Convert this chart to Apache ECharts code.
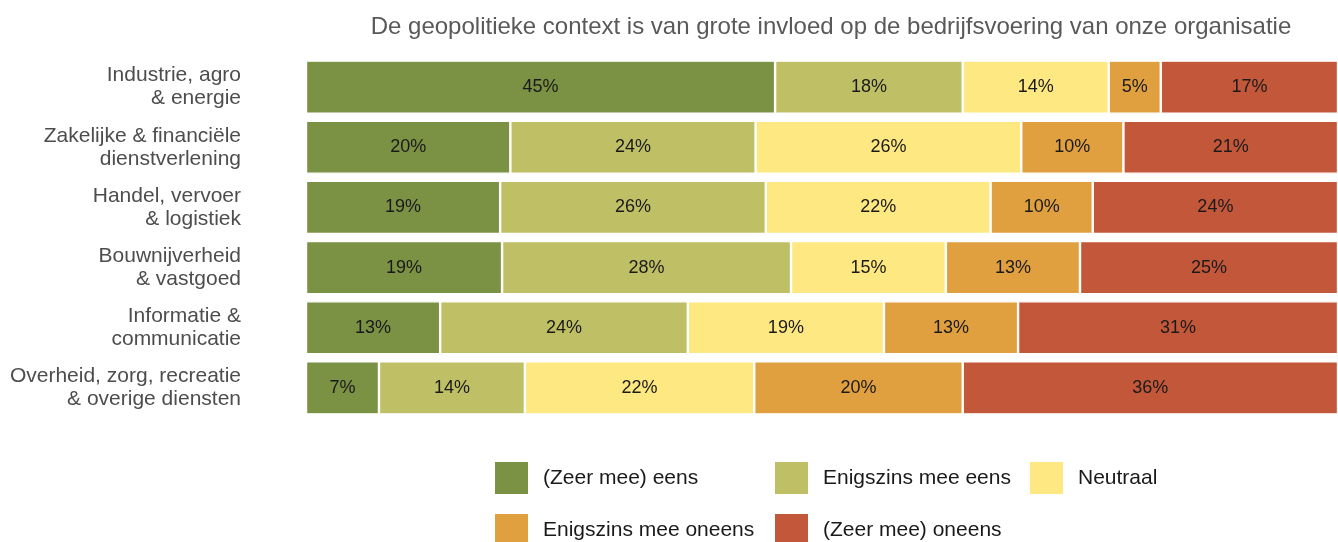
<!DOCTYPE html>
<html>
<head>
<meta charset="utf-8">
<script src="https://cdn.jsdelivr.net/npm/echarts@6/dist/echarts.min.js"></script>
<style>
  html, body { margin: 0; padding: 0; background: #fff; }
  #chart { width: 1338px; height: 542px; }
</style>
</head>
<body>
<div id="chart"></div>
<script>
// sectoren (van boven naar beneden)
var sectors = [
  'Industrie, agro\n& energie',
  'Zakelijke & financiële\ndienstverlening',
  'Handel, vervoer\n& logistiek',
  'Bouwnijverheid\n& vastgoed',
  'Informatie &\ncommunicatie',
  'Overheid, zorg, recreatie\n& overige diensten'
];
var answers = ['(Zeer mee) eens', 'Enigszins mee eens', 'Neutraal', 'Enigszins mee oneens', '(Zeer mee) oneens'];
var colors = ['#7b9144', '#bfbf66', '#fee881', '#e0a040', '#c3573a'];

// percentages per antwoord, zelfde volgorde als sectors
var zeerEens = [45, 20, 19, 19, 13, 7];
var beetjeEens = [18, 24, 26, 28, 24, 14];
var neutraal = [14, 26, 22, 15, 19, 22];
var beetjeOneens = [5, 10, 10, 13, 13, 20];
var zeerOneens = [17, 21, 24, 25, 31, 36];

var values = [zeerEens, beetjeEens, neutraal, beetjeOneens, zeerOneens];

// rij-totalen (afronding geeft 99..101), balken vullen altijd 100%
var rowSum = sectors.map(function (s, i) {
  var t = 0;
  values.forEach(function (v) { t += v[i]; });
  return t;
});

var FONT = 'Liberation Sans, Arial, sans-serif';
var chart = echarts.init(document.getElementById('chart'));

var series = answers.map(function (name, k) {
  return {
    name: name,
    type: 'bar',
    stack: 'totaal',
    barWidth: 53,
    data: values[k].map(function (v, i) {
      return { value: v / rowSum[i] * 100, pct: v };
    }),
    itemStyle: { color: colors[k], borderColor: '#ffffff', borderWidth: 1.2 },
    label: {
      show: true,
      position: 'inside',
      color: '#1a1a1a',
      fontSize: 18,
      fontFamily: FONT,
      formatter: function (p) { return p.data.pct + '%'; }
    }
  };
});

// legenda: 3 kolommen, 2 rijen -> elk item los geplaatst
var legendPos = [[488, 455], [768, 455], [1023, 455], [488, 507], [768, 507]];
var legends = answers.map(function (name, k) {
  return {
    left: legendPos[k][0],
    top: legendPos[k][1],
    icon: 'rect',
    itemWidth: 35,
    itemHeight: 34,
    data: [name],
    textStyle: {
      color: '#1a1a1a',
      fontSize: 21,
      fontFamily: FONT,
      padding: [0, 0, 0, 9]
    }
  };
});

var option = {
  animation: false,
  color: colors,
  title: {
    text: 'De geopolitieke context is van grote invloed op de bedrijfsvoering van onze organisatie',
    left: 826,
    top: 10,
    textAlign: 'center',
    textStyle: {
      color: '#595959',
      fontSize: 24,
      fontWeight: 'normal',
      fontFamily: FONT
    }
  },
  grid: { left: 306, right: 0, top: 57, bottom: 124, containLabel: false },
  xAxis: {
    type: 'value',
    min: 0,
    max: 100,
    show: false
  },
  yAxis: {
    type: 'category',
    inverse: true,
    data: sectors,
    axisLine: { show: false },
    axisTick: { show: false },
    axisLabel: {
      margin: 65,
      color: '#4d4d4d',
      fontSize: 21,
      lineHeight: 23,
      align: 'right',
      fontFamily: FONT
    }
  },
  legend: legends,
  series: series
};

chart.setOption(option);
</script>
</body>
</html>
